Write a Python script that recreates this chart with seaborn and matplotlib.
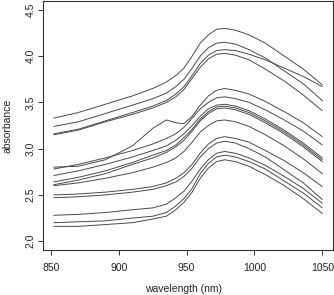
import numpy as np
import pandas as pd
import matplotlib
matplotlib.use('Agg')
import matplotlib.pyplot as plt
import seaborn as sns

wavelength = [852, 870, 890, 910, 925, 935, 942, 948, 954, 960, 966, 972, 978,
              986, 996, 1008, 1022, 1036, 1050]

# upper group of spectra
s01 = [3.33, 3.39, 3.48, 3.57, 3.65, 3.72, 3.79, 3.87, 4.00, 4.14, 4.23, 4.29, 4.30, 4.28, 4.23, 4.14, 4.00, 3.86, 3.69]
s02 = [3.24, 3.29, 3.38, 3.47, 3.54, 3.60, 3.67, 3.75, 3.87, 4.00, 4.09, 4.14, 4.15, 4.13, 4.07, 3.98, 3.84, 3.70, 3.52]
s03 = [3.16, 3.21, 3.30, 3.39, 3.46, 3.52, 3.59, 3.67, 3.79, 3.92, 4.01, 4.06, 4.07, 4.06, 4.02, 3.96, 3.87, 3.78, 3.67]
s04 = [3.15, 3.20, 3.29, 3.37, 3.44, 3.50, 3.56, 3.64, 3.76, 3.88, 3.97, 4.02, 4.03, 4.01, 3.96, 3.86, 3.73, 3.58, 3.41]
# middle group (s05 has the bump near 935 nm)
s05 = [2.80, 2.81, 2.88, 3.03, 3.22, 3.31, 3.28, 3.27, 3.35, 3.47, 3.57, 3.63, 3.65, 3.63, 3.59, 3.51, 3.40, 3.28, 3.13]
s06 = [2.78, 2.83, 2.90, 2.98, 3.05, 3.11, 3.16, 3.23, 3.33, 3.43, 3.50, 3.55, 3.56, 3.54, 3.50, 3.42, 3.31, 3.19, 3.04]
s07 = [2.71, 2.76, 2.83, 2.91, 2.98, 3.03, 3.09, 3.16, 3.25, 3.35, 3.43, 3.47, 3.48, 3.46, 3.41, 3.32, 3.20, 3.06, 2.90]
s08 = [2.64, 2.69, 2.76, 2.85, 2.93, 2.98, 3.04, 3.12, 3.21, 3.32, 3.40, 3.45, 3.46, 3.44, 3.39, 3.30, 3.18, 3.04, 2.88]
s09 = [2.61, 2.66, 2.73, 2.83, 2.90, 2.96, 3.02, 3.09, 3.19, 3.30, 3.38, 3.43, 3.44, 3.42, 3.37, 3.28, 3.16, 3.02, 2.86]
s10 = [2.60, 2.63, 2.68, 2.74, 2.80, 2.85, 2.90, 2.97, 3.07, 3.18, 3.25, 3.30, 3.31, 3.29, 3.24, 3.15, 3.03, 2.89, 2.73]
# lower group
s11 = [2.50, 2.51, 2.53, 2.56, 2.59, 2.63, 2.68, 2.74, 2.83, 2.95, 3.05, 3.11, 3.13, 3.11, 3.07, 2.98, 2.87, 2.74, 2.59]
s12 = [2.47, 2.48, 2.50, 2.53, 2.56, 2.60, 2.64, 2.70, 2.79, 2.91, 3.00, 3.06, 3.08, 3.06, 3.00, 2.91, 2.77, 2.63, 2.45]
s13 = [2.28, 2.29, 2.31, 2.34, 2.36, 2.40, 2.47, 2.54, 2.65, 2.78, 2.88, 2.95, 2.97, 2.95, 2.90, 2.82, 2.70, 2.57, 2.41]
s14 = [2.20, 2.21, 2.22, 2.25, 2.27, 2.31, 2.38, 2.46, 2.57, 2.73, 2.84, 2.91, 2.93, 2.91, 2.86, 2.78, 2.65, 2.52, 2.36]
s15 = [2.16, 2.16, 2.18, 2.20, 2.24, 2.27, 2.34, 2.42, 2.53, 2.68, 2.79, 2.86, 2.88, 2.86, 2.81, 2.72, 2.60, 2.46, 2.30]

spectra = [s01, s02, s03, s04, s05, s06, s07, s08, s09, s10, s11, s12, s13, s14, s15]

rows = []
for i, s in enumerate(spectra):
    for w, a in zip(wavelength, s):
        rows.append({'sample': i, 'wavelength': w, 'absorbance': a})
df = pd.DataFrame(rows)

sns.set_style('ticks')
plt.rcParams['font.family'] = ['Liberation Sans', 'DejaVu Sans']

fig = plt.figure(figsize=(3.34, 2.95), dpi=100)
ax = fig.add_axes([0.129, 0.151, 0.868, 0.847])

sns.lineplot(data=df, x='wavelength', y='absorbance', units='sample',
             estimator=None, color='#4a4a4a', lw=0.7, ax=ax, legend=False)

ax.set_xlim(844.1, 1057.9)
ax.set_ylim(1.9, 4.6)
ax.set_xticks([850, 900, 950, 1000, 1050])
ax.set_yticks([2.0, 2.5, 3.0, 3.5, 4.0, 4.5])
ax.set_yticklabels(['2.0', '2.5', '3.0', '3.5', '4.0', '4.5'], rotation=90, va='center')

for sp in ax.spines.values():
    sp.set_visible(True)
    sp.set_color('#333333')
    sp.set_linewidth(0.8)

ax.tick_params(axis='both', direction='out', length=3.6, width=0.7,
               color='#333333', labelsize=7.5, labelcolor='#222222')
ax.tick_params(axis='x', pad=5.2)
ax.tick_params(axis='y', pad=2.0)

ax.set_xlabel('')
ax.set_ylabel('')
fig.text(0.548, 0.02, 'wavelength (nm)', ha='center', va='center', fontsize=7.5, color='#222222')
fig.text(0.022, 0.574, 'absorbance', ha='center', va='center', rotation=90, fontsize=7.5, color='#222222')

fig.savefig('out.png', dpi=100)
